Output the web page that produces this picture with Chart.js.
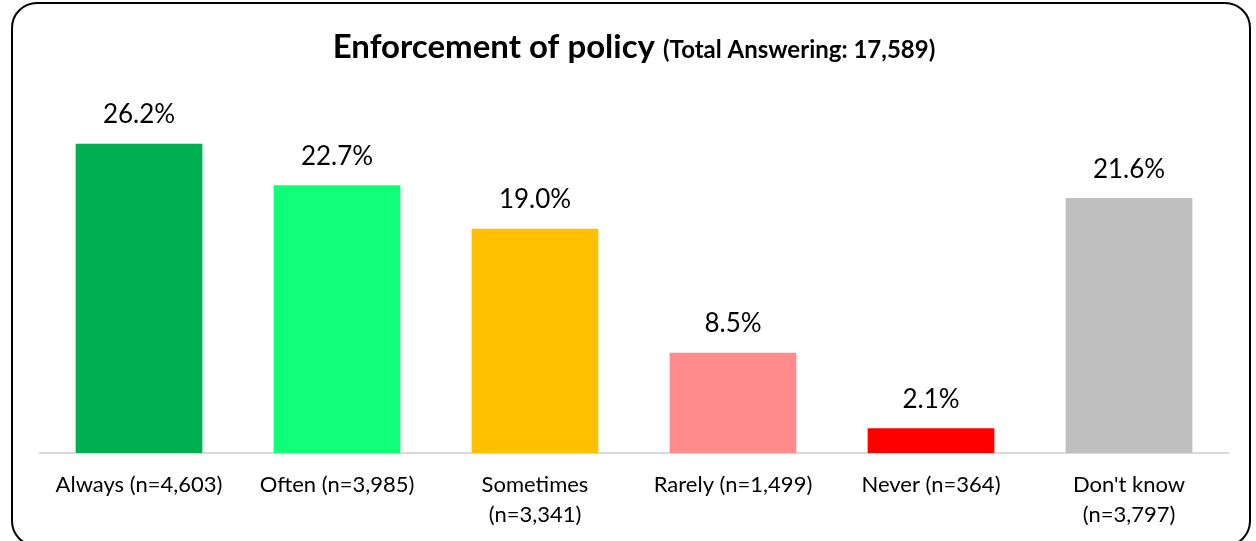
<!DOCTYPE html>
<html>
<head>
<meta charset="utf-8">
<script src="https://cdn.jsdelivr.net/npm/chart.js@4"></script>
<style>
  html, body { margin: 0; padding: 0; background: #fff; }
  #wrap { position: relative; width: 1256px; height: 541px; overflow: hidden; }
  #frame {
    position: absolute; left: 11px; top: 2px; width: 1240px; height: 545px;
    border: 2px solid #000; border-radius: 26px; box-sizing: border-box;
  }
  #chart { position: absolute; left: 0; top: 0; }
</style>
</head>
<body>
<div id="wrap">
  <div id="frame"></div>
  <canvas id="chart" width="1256" height="541"></canvas>
</div>
<script>
// Survey response breakdown
const categories = [
    'Always (n=4,603)',
    'Often (n=3,985)',
    ['Sometimes', '(n=3,341)'],
    'Rarely (n=1,499)',
    'Never (n=364)',
    ["Don't know", '(n=3,797)']
];
const percentages = [26.2, 22.7, 19.0, 8.5, 2.1, 21.6];
const barColors = ['#00B050', '#10FF78', '#FFC000', '#FF8B8B', '#FF0000', '#BFBFBF'];
const titleMain = 'Enforcement of policy';
const titleSub = '(Total Answering: 17,589)';

const FONT = 'Lato, "Open Sans", sans-serif';

// two-size title drawn on top of the chart
const titlePlugin = {
    id: 'mixedTitle',
    afterDraw(chart) {
        const ctx = chart.ctx;
        const mainFont = 'bold 33px ' + FONT;
        const subFont = 'bold 24px ' + FONT;
        ctx.save();
        ctx.font = mainFont;
        const w1 = ctx.measureText(titleMain + ' ').width;
        ctx.font = subFont;
        const w2 = ctx.measureText(titleSub).width;
        const cx = (chart.chartArea.left + chart.chartArea.right) / 2;
        let x = cx - (w1 + w2) / 2;
        const y = 58;
        ctx.fillStyle = '#000';
        ctx.textBaseline = 'alphabetic';
        ctx.textAlign = 'left';
        ctx.font = mainFont;
        ctx.fillText(titleMain + ' ', x, y);
        ctx.font = subFont;
        ctx.fillText(titleSub, x + w1, y);
        ctx.restore();
    }
};

// percentage labels above each bar
const valueLabels = {
    id: 'valueLabels',
    afterDatasetsDraw(chart) {
        const ctx = chart.ctx;
        const meta = chart.getDatasetMeta(0);
        ctx.save();
        ctx.font = '26px ' + FONT;
        ctx.fillStyle = '#000';
        ctx.textAlign = 'center';
        ctx.textBaseline = 'middle';
        meta.data.forEach((bar, i) => {
            ctx.fillText(percentages[i].toFixed(1) + '%', bar.x, bar.y - 29);
        });
        ctx.restore();
    }
};

new Chart(document.getElementById('chart'), {
    type: 'bar',
    data: {
        labels: categories,
        datasets: [{
            data: percentages,
            backgroundColor: barColors,
            borderWidth: 0,
            categoryPercentage: 1,
            barPercentage: 0.64
        }]
    },
    options: {
        responsive: false,
        animation: false,
        layout: { padding: { top: 99, left: 40, right: 28, bottom: 0 } },
        plugins: {
            legend: { display: false },
            tooltip: { enabled: false },
            title: { display: false }
        },
        scales: {
            x: {
                grid: { display: false },
                border: { color: '#D9D9D9', width: 2 },
                afterFit(scale) { scale.height = 88; },
                ticks: {
                    color: '#000',
                    padding: 9,
                    maxRotation: 0,
                    autoSkip: false,
                    font: { family: FONT, size: 22, lineHeight: 1.36 }
                }
            },
            y: {
                display: false,
                min: 0,
                max: 30
            }
        }
    },
    plugins: [titlePlugin, valueLabels]
});
</script>
</body>
</html>
